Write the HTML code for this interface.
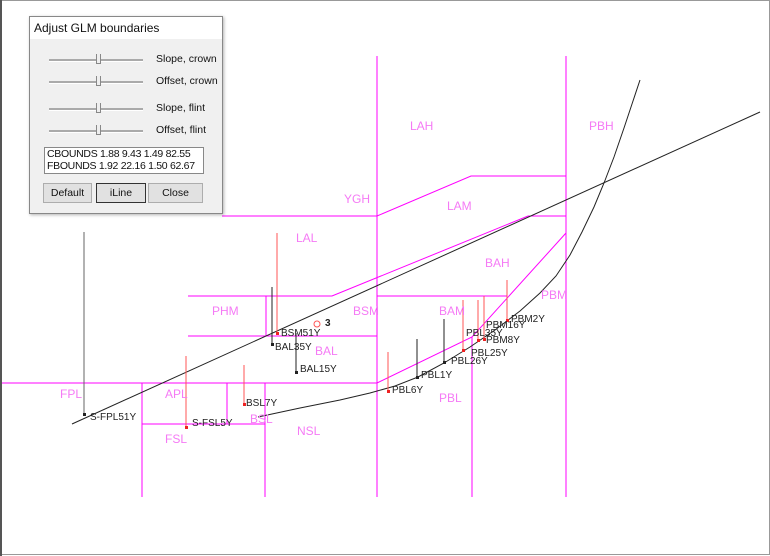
<!DOCTYPE html>
<html><head><meta charset="utf-8"><style>
body{margin:0;width:770px;height:556px;background:#fff;overflow:hidden;position:relative;font-family:"Liberation Sans",sans-serif}
svg{position:absolute;left:0;top:0}
.m{fill:#f57af5;font-size:12px}
.d{fill:#222;font-size:10px}
#dlg{position:absolute;left:29px;top:16px;width:192px;height:196px;background:#f0f0f0;border:1px solid #888;box-shadow:1px 1px 3px rgba(0,0,0,.3);font-size:10.5px;color:#111}
#t{background:#fff;height:22px;line-height:22px;padding-left:4px;font-size:12px}
.sl{position:absolute;left:19px;width:94px;height:2px;background:#aaa;border-bottom:1px solid #fff}
.th{position:absolute;left:47px;top:-5px;width:3px;height:9px;background:#eee;border:1px solid #888;border-top:none}
.lb{position:absolute;left:126px;white-space:nowrap}
#tb{position:absolute;left:14px;top:130px;width:156px;height:25px;background:#fff;border:1px solid #888;font-size:10.5px;line-height:12px;padding-left:2px;white-space:nowrap;overflow:hidden;letter-spacing:-0.3px}
.b{position:absolute;top:166px;height:18px;background:#e1e1e1;border:1px solid #adadad;text-align:center;line-height:18px;font-size:10.5px}
</style></head><body>
<svg width="770" height="556">
<rect x="0.5" y="0.5" width="769" height="554" fill="none" stroke="#999"/>
<line x1="1" y1="0" x2="1" y2="556" stroke="#555" stroke-width="2"/>
<g stroke="#f0f" stroke-width="1" fill="none">
<line x1="377" y1="56" x2="377" y2="497"/>
<line x1="566" y1="56" x2="566" y2="497"/>
<line x1="222" y1="216" x2="377" y2="216"/>
<polyline points="377,216 471,176 566,176"/>
<polyline points="188,296 332,296 528,216 566,216"/>
<line x1="377" y1="296" x2="507" y2="296"/>
<line x1="188" y1="336" x2="377" y2="336"/>
<line x1="266" y1="296" x2="266" y2="336"/>
<polyline points="2,383 377,383 472,337 566,233"/>
<line x1="472" y1="337" x2="472" y2="497"/>
<line x1="142" y1="383" x2="142" y2="497"/>
<line x1="142" y1="424" x2="265" y2="424"/>
<line x1="227" y1="383" x2="227" y2="424"/>
<line x1="265" y1="383" x2="265" y2="497"/>
</g>
<g stroke="#222" fill="none">
<line x1="72" y1="424" x2="760" y2="112"/>
<polyline points="258,417 300,408 340,400 370,393 395,386 418,377 444,363 470,347 495,330 520,311 540,293 556,276 570,255 582,232 594,207 604,183 614,157 624,128 632,104 640,80"/>
<line x1="84" y1="232" x2="84" y2="414" stroke="#666"/>
<line x1="272" y1="287" x2="272" y2="344"/>
<line x1="296" y1="333" x2="296" y2="372"/>
<line x1="417" y1="339" x2="417" y2="377"/>
<line x1="444" y1="319" x2="444" y2="362"/>
</g>
<g stroke="#f55" fill="none">
<line x1="277" y1="233" x2="277" y2="333"/>
<line x1="244" y1="365" x2="244" y2="404"/>
<line x1="186" y1="356" x2="186" y2="427"/>
<line x1="388" y1="352" x2="388" y2="391"/>
<line x1="463" y1="300" x2="463" y2="350"/>
<line x1="478" y1="300" x2="478" y2="340"/>
<line x1="484" y1="296" x2="484" y2="339"/>
<line x1="507" y1="280" x2="507" y2="320"/>
<circle cx="317" cy="324" r="3"/>
</g>
<g fill="#222"><rect x="83" y="413" width="3" height="3"/><rect x="271" y="343" width="3" height="3"/><rect x="295" y="371" width="3" height="3"/><rect x="416" y="376" width="3" height="3"/><rect x="443" y="361" width="3" height="3"/></g>
<g fill="#e22"><rect x="276" y="332" width="3" height="3"/><rect x="243" y="403" width="3" height="3"/><rect x="185" y="426" width="3" height="3"/><rect x="387" y="390" width="3" height="3"/><rect x="462" y="349" width="3" height="3"/><rect x="477" y="339" width="3" height="3"/><rect x="483" y="338" width="3" height="3"/><rect x="506" y="319" width="3" height="3"/></g>
<g class="m">
<text x="410" y="130">LAH</text><text x="589" y="130">PBH</text><text x="344" y="203">YGH</text><text x="447" y="210">LAM</text><text x="296" y="242">LAL</text><text x="485" y="267">BAH</text><text x="541" y="299">PBM</text><text x="212" y="315">PHM</text><text x="353" y="315">BSM</text><text x="439" y="315">BAM</text><text x="315" y="355">BAL</text><text x="60" y="398">FPL</text><text x="165" y="398">APL</text><text x="439" y="402">PBL</text><text x="250" y="423">BSL</text><text x="297" y="435">NSL</text><text x="165" y="443">FSL</text>
</g>
<g class="d">
<text x="90" y="420">S-FPL51Y</text><text x="281" y="336">BSM51Y</text><text x="275" y="350">BAL35Y</text><text x="300" y="372">BAL15Y</text><text x="246" y="406">BSL7Y</text><text x="192" y="426">S-FSL5Y</text><text x="392" y="393">PBL6Y</text><text x="421" y="378">PBL1Y</text><text x="451" y="364">PBL26Y</text><text x="471" y="356">PBL25Y</text><text x="466" y="336">PBL35Y</text><text x="486" y="343">PBM8Y</text><text x="486" y="328">PBM16Y</text><text x="511" y="322">PBM2Y</text><text x="325" y="326" font-weight="bold">3</text>
</g>
</svg>
<div id="dlg"><div id="t">Adjust GLM boundaries</div>
<div class="sl" style="top:42px"><div class="th"></div></div><div class="lb" style="top:36px">Slope, crown</div>
<div class="sl" style="top:64px"><div class="th"></div></div><div class="lb" style="top:58px">Offset, crown</div>
<div class="sl" style="top:91px"><div class="th"></div></div><div class="lb" style="top:85px">Slope, flint</div>
<div class="sl" style="top:113px"><div class="th"></div></div><div class="lb" style="top:107px">Offset, flint</div>
<div id="tb">CBOUNDS 1.88 9.43 1.49 82.55<br>FBOUNDS 1.92 22.16 1.50 62.67</div>
<div class="b" style="left:13px;width:47px">Default</div>
<div class="b" style="left:66px;width:48px;border:1px solid #333">iLine</div>
<div class="b" style="left:118px;width:53px">Close</div>
</div>
</body></html>
